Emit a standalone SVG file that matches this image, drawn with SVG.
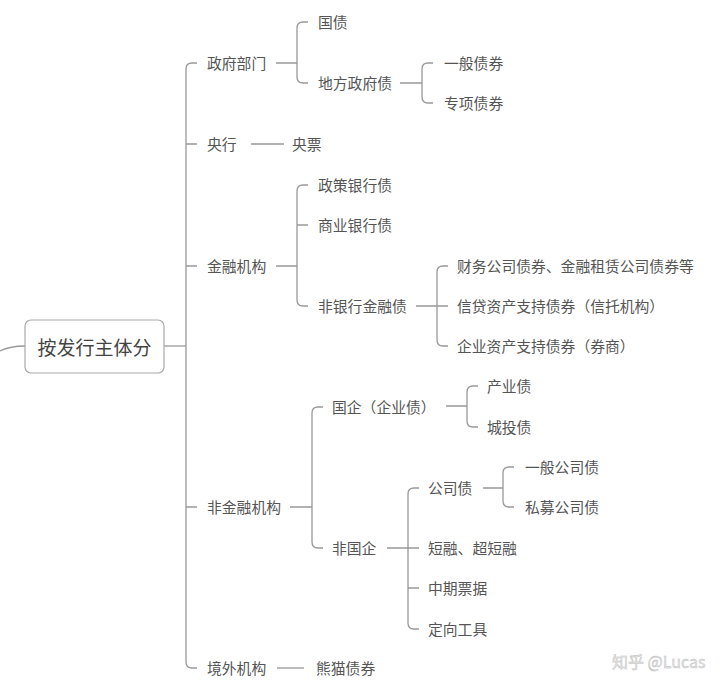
<svg xmlns="http://www.w3.org/2000/svg" width="720" height="692" viewBox="0 0 720 692">
<style>
text{font-family:"Noto Sans CJK SC","Noto Sans",sans-serif;font-size:14.8px;fill:#555;dominant-baseline:central}
.root{font-size:19px;fill:#444}
.c{fill:none;stroke:#999;stroke-width:1.3}
.wm{fill:#e6e6e6;font-size:16px;stroke:#bbb;stroke-width:0.4}
</style>
<rect width="720" height="692" fill="#fff"/>
<g id="connectors" class="c">
<path d="M0 351 Q10 346 25 346"/>
<path d="M164 346 H186"/>
<path d="M197 63 H192 Q186 63 186 69 V662 Q186 668 192 668 H197"/>
<path d="M186 144 H197 M186 266 H197 M186 507 H197"/>
<path d="M276 63 H297 M308 22 H303 Q297 22 297 28 V77 Q297 83 303 83 H308"/>
<path d="M400 83 H422 M433 63 H428 Q422 63 422 69 V97 Q422 103 428 103 H433"/>
<path d="M251 144 H284"/>
<path d="M276 266 H297 M308 185 H303 Q297 185 297 191 V300 Q297 306 303 306 H308 M297 225 H308"/>
<path d="M416 306 H437 M448 266 H443 Q437 266 437 272 V340 Q437 346 443 346 H448 M437 306 H448"/>
<path d="M290 507 H312 M323 407 H318 Q312 407 312 413 V542 Q312 548 318 548 H323"/>
<path d="M446 406 H467 M478 386 H473 Q467 386 467 392 V421 Q467 427 473 427 H478"/>
<path d="M387 548 H408 M419 488 H414 Q408 488 408 494 V623 Q408 629 414 629 H419 M408 548 H419 M408 588 H419"/>
<path d="M483 488 H503 M514 467 H509 Q503 467 503 473 V501 Q503 507 509 507 H514"/>
<path d="M277 668 H304"/>
</g>
<g id="root"><rect x="25" y="320" width="139" height="53" rx="6" fill="#fff" stroke="#aaa" stroke-width="1.2"/><text class="root" x="94.5" y="346" text-anchor="middle">按发行主体分</text></g>
<g id="n_zf"><text x="207" y="62">政府部门</text></g>
<g id="n_gz"><text x="318" y="21">国债</text></g>
<g id="n_df"><text x="318" y="82">地方政府债</text></g>
<g id="n_yb"><text x="444" y="62">一般债券</text></g>
<g id="n_zx"><text x="444" y="102">专项债券</text></g>
<g id="n_yh"><text x="207" y="143">央行</text></g>
<g id="n_yp"><text x="292" y="143">央票</text></g>
<g id="n_jr"><text x="207" y="265">金融机构</text></g>
<g id="n_zc"><text x="318" y="184">政策银行债</text></g>
<g id="n_sy"><text x="318" y="224">商业银行债</text></g>
<g id="n_fy"><text x="318" y="305">非银行金融债</text></g>
<g id="n_cw"><text x="457" y="265">财务公司债券、金融租赁公司债券等</text></g>
<g id="n_xd"><text x="457" y="305">信贷资产支持债券（信托机构）</text></g>
<g id="n_qy"><text x="457" y="345">企业资产支持债券（券商）</text></g>
<g id="n_fj"><text x="207" y="506">非金融机构</text></g>
<g id="n_gq"><text x="332" y="406">国企（企业债）</text></g>
<g id="n_cy"><text x="487" y="385">产业债</text></g>
<g id="n_ct"><text x="487" y="426">城投债</text></g>
<g id="n_fg"><text x="332" y="547">非国企</text></g>
<g id="n_gs"><text x="428" y="487">公司债</text></g>
<g id="n_ybgs"><text x="525" y="466">一般公司债</text></g>
<g id="n_sm"><text x="525" y="506">私募公司债</text></g>
<g id="n_dr"><text x="428" y="547">短融、超短融</text></g>
<g id="n_zq"><text x="428" y="587">中期票据</text></g>
<g id="n_dx"><text x="428" y="628">定向工具</text></g>
<g id="n_jw"><text x="207" y="667">境外机构</text></g>
<g id="n_xm"><text x="316" y="667">熊猫债券</text></g>
<text class="wm" x="612" y="661">知乎 @Lucas</text>
</svg>
